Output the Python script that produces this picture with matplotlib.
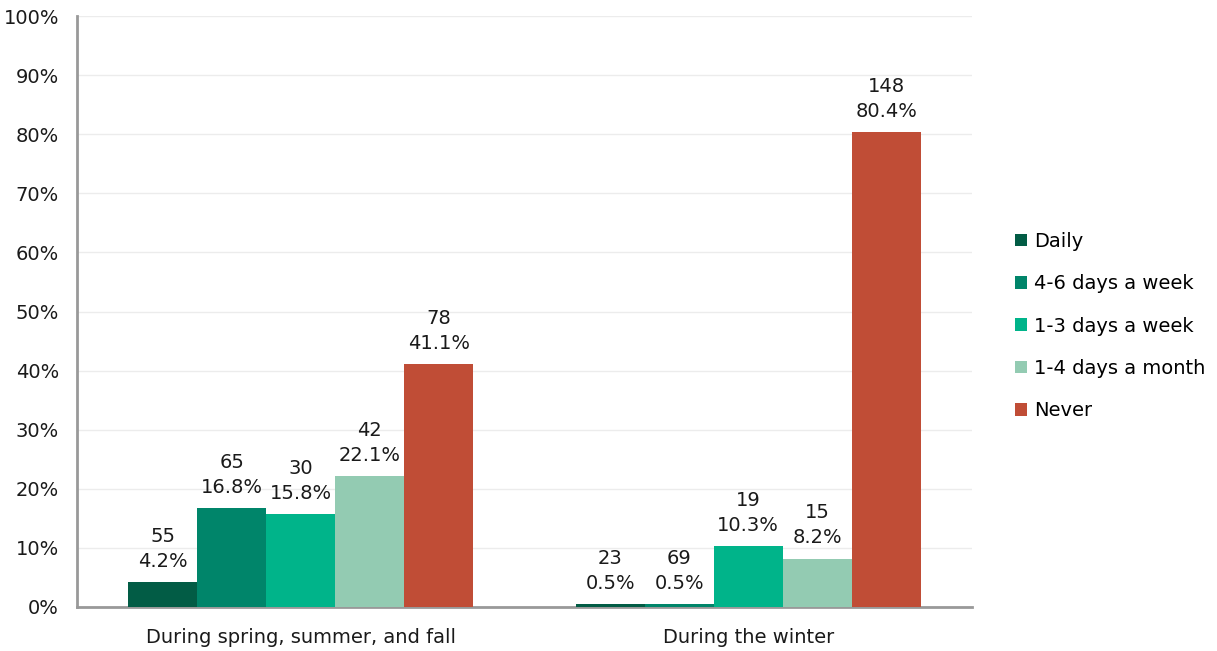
import numpy as np
import matplotlib.pyplot as plt
from matplotlib.ticker import PercentFormatter

plt.rcParams['font.family'] = ['DejaVu Sans']

groups = ['During spring, summer, and fall', 'During the winter']
series = ['Daily', '4-6 days a week', '1-3 days a week', '1-4 days a month', 'Never']
colors = ['#025c45', '#00856a', '#00b48a', '#93cbb2', '#c04d36']

# percent of respondents, with raw counts shown above each bar
pct_spring = [4.2, 16.8, 15.8, 22.1, 41.1]
pct_winter = [0.5, 0.5, 10.3, 8.2, 80.4]
n_spring = [55, 65, 30, 42, 78]
n_winter = [23, 69, 19, 15, 148]

pct = np.array([pct_spring, pct_winter])
counts = np.array([n_spring, n_winter])

fig = plt.figure(figsize=(12.17, 6.51), dpi=100)
ax = fig.add_axes([77 / 1217, 1 - 607 / 651, 895 / 1217, 591 / 651])

x = np.arange(len(groups))
w = 0.154
for i, name in enumerate(series):
    pos = x + (i - 2) * w
    bars = ax.bar(pos, pct[:, i], width=w, color=colors[i], label=name, zorder=3)
    for b, v, c in zip(bars, pct[:, i], counts[:, i]):
        ax.annotate('%d\n%.1f%%' % (c, v), (b.get_x() + b.get_width() / 2, v),
                    xytext=(0, 8), textcoords='offset points',
                    ha='center', va='bottom', fontsize=14, linespacing=1.4,
                    color='#1a1a1a')

ax.set_xlim(-0.5, 1.5)
ax.set_ylim(0, 100)
ax.set_yticks(np.arange(0, 101, 10))
ax.yaxis.set_major_formatter(PercentFormatter(decimals=0))
ax.set_xticks(x)
ax.set_xticklabels(groups)
ax.tick_params(axis='both', length=0, labelsize=14, colors='#1a1a1a')
ax.tick_params(axis='x', pad=15)
ax.tick_params(axis='y', pad=13)
ax.grid(axis='y', color='#ececec', linewidth=1, zorder=0)
for s in ['top', 'right']:
    ax.spines[s].set_visible(False)
for s in ['left', 'bottom']:
    ax.spines[s].set_color('#999999')
    ax.spines[s].set_linewidth(2)

ax.legend(loc='center left', bbox_to_anchor=(997 / 1217, 1 - 326 / 651),
          bbox_transform=fig.transFigure, frameon=False, fontsize=14,
          handlelength=0.65, handleheight=0.65, handletextpad=0.35,
          labelspacing=1.2)

fig.savefig('out.png', dpi=100)
